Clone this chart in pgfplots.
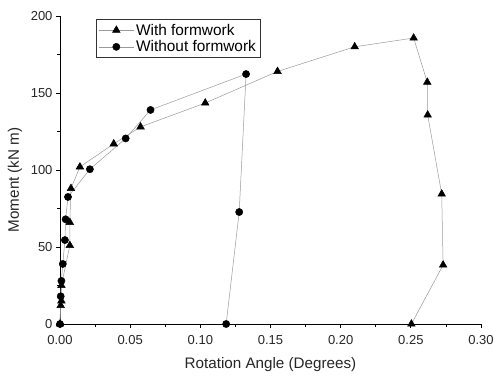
\documentclass[border=0pt]{standalone}
\usepackage{pgfplots}
\pgfplotsset{compat=1.18}
\usepackage{fontspec}
\setmainfont{Liberation Sans}
\begin{document}
\begin{tikzpicture}
\begin{axis}[
  name=ax,
  scale only axis,
  width=421pt, height=308pt,
  xmin=0, xmax=0.30, ymin=0, ymax=200,
  axis x line*=bottom, axis y line*=left,
  axis line style={-, line width=0.8pt},
  tick align=outside,
  major tick length=4pt, minor tick length=2.5pt,
  tick style={black, line width=0.7pt},
  xtick={0,0.05,0.1,0.15,0.2,0.25,0.3},
  ytick={0,50,100,150,200},
  minor x tick num=1, minor y tick num=1,
  xticklabel style={yshift=-4pt, /pgf/number format/.cd, fixed, fixed zerofill, precision=2},
  /pgf/number format/assume math mode=true,
  scaled x ticks=false,
  tick label style={font=\fontsize{13}{15}\selectfont, color=black!85},
  label style={font=\fontsize{15.2}{17}\selectfont, color=black!85},
  xlabel={Rotation Angle (Degrees)},
  ylabel={Moment (kN m)},
  xlabel style={yshift=-6pt},
  ylabel style={at={(ticklabel cs:0.468)}, yshift=2pt},
  clip=false,
  legend style={at={(0.085,0.99)}, anchor=north west, draw=black!80, line width=0.6pt,
    font=\fontsize{15.4}{18}\selectfont, inner sep=2.5pt, row sep=0pt, cells={anchor=west}},
  legend cell align=left,
  legend image code/.code={\draw[#1, mark repeat=2, mark phase=2] plot coordinates {(0pt,0pt)(17.5pt,0pt)(35pt,0pt)};},
]
\addplot[gray!80, line width=0.5pt, mark=triangle*, mark size=4.4pt, mark options={black, fill=black, solid}] coordinates {
 (0,0) (0.0005,12) (0.001,15) (0.001,25) (0.007,51) (0.007,66) (0.0078,88) (0.0142,102)
 (0.0383,117) (0.0574,128) (0.1035,143.5) (0.155,164) (0.21,180) (0.252,185.7)
 (0.2617,157) (0.262,135.7) (0.272,84.4) (0.273,38.3) (0.2504,0)
};
\addlegendentry{With formwork}
\addplot[gray!80, line width=0.5pt, mark=*, mark size=3.6pt, mark options={black, fill=black, solid}] coordinates {
 (0,0) (0.0005,18) (0.001,28) (0.002,39) (0.0035,54.5) (0.004,68) (0.0057,82.5)
 (0.0213,100.5) (0.0468,120.5) (0.0645,139) (0.1326,162.3) (0.1277,72.7) (0.1184,0)
};
\addlegendentry{Without formwork}
\end{axis}
\pgfresetboundingbox
\path[use as bounding box] ([shift={(-60pt,-53pt)}]ax.south west) rectangle ([shift={(13pt,16pt)}]ax.north east);
\end{tikzpicture}
\end{document}
